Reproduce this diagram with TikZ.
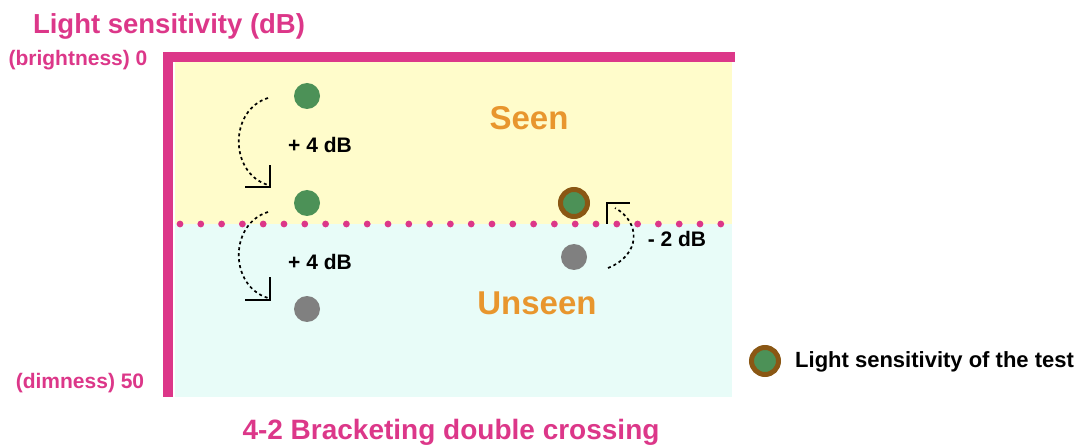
\documentclass[tikz,border=0pt]{standalone}
\usepackage{fontspec}
\setmainfont{Liberation Sans}
\definecolor{axispink}{HTML}{DC3789}
\definecolor{seenbg}{HTML}{FFFCCB}
\definecolor{unseenbg}{HTML}{E8FCF8}
\definecolor{dotgreen}{HTML}{4C9157}
\definecolor{dotgray}{HTML}{808080}
\definecolor{ringbrown}{HTML}{8A5714}
\definecolor{zoneorange}{HTML}{E8962E}
\newcommand{\fsz}[1]{\fontsize{#1}{#1}\selectfont\bfseries}
\tikzset{
  seendot/.style={circle, fill=dotgreen, minimum size=26pt, inner sep=0pt},
  unseendot/.style={circle, fill=dotgray, minimum size=26pt, inner sep=0pt},
  testdot/.style={circle, fill=dotgreen, draw=ringbrown, line width=5pt, minimum size=27pt, inner sep=0pt},
  steplabel/.style={font=\fsz{21}, text=black, inner sep=0pt},
  axislabel/.style={font=\fsz{21}, text=axispink, inner sep=0pt},
  zonelabel/.style={font=\fsz{33}, text=zoneorange, inner sep=0pt},
  jump/.style={dashed, dash pattern=on 3pt off 3pt, line width=1.7pt, black},
  bracket/.style={line width=1.3pt, black},
}
\begin{document}
\begin{tikzpicture}[x=1pt, y=-1pt]
\useasboundingbox (0,0) rectangle (1081,446);
% zones
\fill[seenbg] (175,62) rectangle (732,224);
\fill[unseenbg] (175,224) rectangle (732,397);
% axes
\fill[axispink] (163,52) rectangle (173,397);
\fill[axispink] (163,52) rectangle (735,62);
% threshold line
\foreach \k in {0,...,26} \fill[axispink] (180+20.8*\k,224) circle (3.4pt);
% titles and axis labels
\node[font=\fsz{27.5}, text=axispink, inner sep=0pt] (ytitle) at (169,26) {Light sensitivity (dB)};
\node[axislabel] (top) at (78,60) {(brightness) 0};
\node[axislabel] (bottom) at (80,383) {(dimness) 50};
\node[font=\fsz{28}, text=axispink, inner sep=0pt] (caption) at (451,432) {4-2 Bracketing double crossing};
% zones
\node[zonelabel] (seen) at (529,118) {Seen};
\node[zonelabel] (unseen) at (537,303) {Unseen};
% stimuli
\node[seendot] (s1) at (307,96) {};
\node[seendot] (s2) at (307,203) {};
\node[unseendot] (s3) at (307,309) {};
\node[testdot] (t1) at (574,203) {};
\node[unseendot] (t2) at (574,257) {};
% steps
\coordinate (a1) at (268,98);
\coordinate (b1) at (268,185);
\draw[jump] (a1) .. controls (229,110) and (229,173) .. (b1);
\draw[bracket] (245,187) -- (270,187) -- (270,165);
\node[steplabel] (l1) at (320,145) {+ 4 dB};
\coordinate (a2) at (268,212);
\coordinate (b2) at (268,298);
\draw[jump] (a2) .. controls (229,224) and (229,286) .. (b2);
\draw[bracket] (245,300) -- (270,300) -- (270,277);
\node[steplabel] (l2) at (320,262) {+ 4 dB};
\coordinate (a3) at (608,268);
\coordinate (b3) at (615,208);
\draw[jump] (a3) .. controls (641,255) and (641,222) .. (b3);
\draw[bracket] (607,224) -- (607,203) -- (630,203);
\node[steplabel] (l3) at (677,239) {- 2 dB};
% legend
\node[testdot] (legdot) at (765,361) {};
\node[font=\fsz{22}, text=black, anchor=west, inner sep=0pt] (legtext) at (795,362) {Light sensitivity of the test};
\end{tikzpicture}
\end{document}
